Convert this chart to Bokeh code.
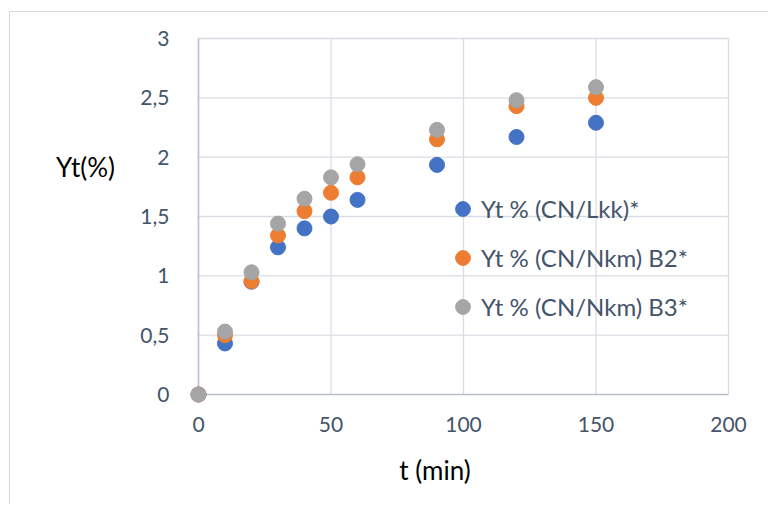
from bokeh.plotting import figure
from bokeh.models import Range1d, FixedTicker, Legend, LegendItem, Label, LinearAxis
from bokeh.embed import file_html
from bokeh.resources import INLINE

# ---- data ----
t_min = [0, 10, 20, 30, 40, 50, 60, 90, 120, 150]
yt_lkk = [0, 0.43, 0.95, 1.24, 1.40, 1.50, 1.64, 1.935, 2.17, 2.29]
yt_nkm_b2 = [0, 0.50, 0.955, 1.34, 1.545, 1.70, 1.83, 2.15, 2.43, 2.50]
yt_nkm_b3 = [0, 0.53, 1.03, 1.44, 1.65, 1.83, 1.94, 2.23, 2.48, 2.59]

series_names = ["Yt % (CN/Lkk)*", "Yt % (CN/Nkm) B2*", "Yt % (CN/Nkm) B3*"]
series_colors = ["#4472C4", "#ED7D31", "#A5A5A5"]

x_ticks = [0, 50, 100, 150, 200]
x_tick_labels = ["0", "50", "100", "150", "200"]
y_ticks = [0, 0.5, 1, 1.5, 2, 2.5, 3]
y_tick_labels = ["0", "0,5", "1", "1,5", "2", "2,5", "3"]

x_title = "t (min)"
y_title = "Yt(%)"

FONT = "Lato"
TICK_COLOR = "#44546A"
GRID_COLOR = "#D9DDE3"
AXIS_COLOR = "#B6BECB"

# ---- layout geometry (canvas pixels) ----
W, H = 759, 493
X_LO_PX, X_HI_PX = 188, 718      # where first / last x tick sit
Y_HI_PX, Y_LO_PX = 26, 382       # where last / first y tick sit (from top)
xs = (X_HI_PX - X_LO_PX) / (x_ticks[-1] - x_ticks[0])
ys = (Y_LO_PX - Y_HI_PX) / (y_ticks[-1] - y_ticks[0])
x_start = x_ticks[0] - X_LO_PX / xs
x_end = x_ticks[-1] + (W - X_HI_PX) / xs
y_end = y_ticks[-1] + Y_HI_PX / ys
y_start = y_ticks[0] - (H - Y_LO_PX) / ys


def px_to_data(cx, cy):
    return x_start + cx / xs, y_end - cy / ys


p = figure(width=W, height=H, output_backend="svg", toolbar_location=None,
           x_range=Range1d(x_start, x_end), y_range=Range1d(y_start, y_end),
           x_axis_type=None, y_axis_type=None,
           min_border_left=0, min_border_right=0, min_border_top=0, min_border_bottom=0)
p.styles = {"margin-left": "9px", "margin-top": "11px",
            "border-left": "1px solid #D9D9D9", "border-top": "1px solid #D9D9D9"}
p.outline_line_color = None
p.background_fill_color = "white"
p.border_fill_color = "white"
for g in p.grid:
    g.visible = False

# gridlines built from the tick arrays
gx = [v for v in x_ticks[1:]]
p.segment(x0=gx, y0=[y_ticks[0]] * len(gx), x1=gx, y1=[y_ticks[-1]] * len(gx),
          line_color=GRID_COLOR, line_width=1.3, level="underlay")
gy = [v for v in y_ticks[1:]]
p.segment(x0=[x_ticks[0]] * len(gy), y0=gy, x1=[x_ticks[-1]] * len(gy), y1=gy,
          line_color=GRID_COLOR, line_width=1.3, level="underlay")

xaxis = LinearAxis(fixed_location=y_ticks[0], bounds=(x_ticks[0], x_ticks[-1]),
                   ticker=FixedTicker(ticks=x_ticks))
yaxis = LinearAxis(fixed_location=x_ticks[0], bounds=(y_ticks[0], y_ticks[-1]),
                   ticker=FixedTicker(ticks=y_ticks))
xaxis.major_label_overrides = {v: s for v, s in zip(x_ticks, x_tick_labels)}
yaxis.major_label_overrides = {v: s for v, s in zip(y_ticks, y_tick_labels)}
for ax in (xaxis, yaxis):
    ax.axis_line_color = AXIS_COLOR
    ax.axis_line_width = 1.6
    ax.major_tick_line_color = None
    ax.minor_tick_line_color = None
    ax.major_label_text_font = FONT
    ax.major_label_text_font_size = "21px"
    ax.major_label_text_color = TICK_COLOR
xaxis.major_label_standoff = 16
yaxis.major_label_standoff = 23
p.add_layout(xaxis, "below")
p.add_layout(yaxis, "left")

renderers = []
for yv, c in zip([yt_lkk, yt_nkm_b2, yt_nkm_b3], series_colors):
    r = p.scatter(t_min, yv, size=15, fill_color=c, line_color=c, line_width=1,
                  level="annotation")
    renderers.append(r)

legend = Legend(items=[LegendItem(label=n, renderers=[r]) for n, r in zip(series_names, renderers)],
                location=(434, 180), border_line_color=None, background_fill_alpha=0,
                padding=0, margin=0, spacing=12, glyph_width=37, glyph_height=37,
                label_height=20, label_standoff=-8,
                label_text_font=FONT, label_text_font_size="24px", label_text_color=TICK_COLOR)
p.add_layout(legend)

ylx, yly = px_to_data(75, 154)
p.add_layout(Label(x=ylx, y=yly, text=y_title, text_align="center", text_baseline="middle",
                   text_font=FONT, text_font_size="26px", text_color="black"))
xlx, xly = px_to_data(424.5, 457)
p.add_layout(Label(x=xlx, y=xly, text=x_title, text_align="center", text_baseline="middle",
                   text_font=FONT, text_font_size="26px", text_color="black"))

open("out.html", "w").write(file_html(p, INLINE))
